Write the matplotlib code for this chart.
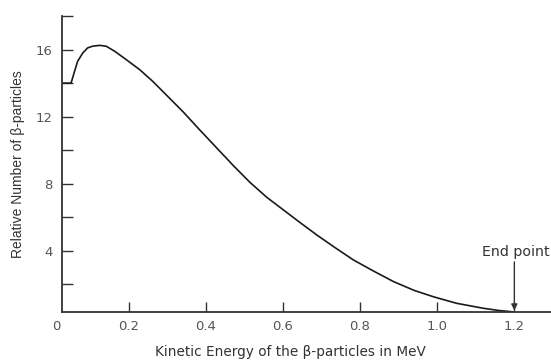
import matplotlib
matplotlib.use("Agg")
import matplotlib.pyplot as plt

plt.rcParams['font.family'] = ['DejaVu Sans']

# Data
energy_mev = [0.0275, 0.051, 0.060, 0.068, 0.0815, 0.094, 0.107, 0.125, 0.142, 0.164,
              0.194, 0.229, 0.263, 0.289, 0.341, 0.385, 0.428, 0.471, 0.514, 0.558,
              0.601, 0.644, 0.688, 0.735, 0.783, 0.835, 0.887, 0.94, 0.99, 1.05,
              1.12, 1.16, 1.2]
rel_number = [14.0, 14.0, 14.7, 15.3, 15.8, 16.1, 16.2, 16.25, 16.2, 15.9,
              15.4, 14.8, 14.1, 13.5, 12.3, 11.2, 10.15, 9.1, 8.1, 7.2,
              6.45, 5.7, 4.95, 4.2, 3.46, 2.8, 2.17, 1.65, 1.27, 0.88,
              0.58, 0.45, 0.36]
x_ticks = [0.2, 0.4, 0.6, 0.8, 1.0, 1.2]
x_tick_labels = ["0.2", "0.4", "0.6", "0.8", "1.0", "1.2"]
y_major = [4, 8, 12, 16]
y_minor = [2, 6, 10, 14, 18]
end_point = 1.2

fig = plt.figure(figsize=(5.51, 3.6), dpi=100)
ax = fig.add_axes([62/551, 1-312/360, 1-62/551, (312-16)/360])

ax.plot(energy_mev, rel_number, color='#1a1a1a', lw=1.2, solid_joinstyle='round',
        solid_capstyle='round')

ax.set_xlim(0.0275, 1.295)
ax.set_ylim(0.36, 18.0)

for s in ['top', 'right']:
    ax.spines[s].set_visible(False)
for s in ['left', 'bottom']:
    ax.spines[s].set_color('#333333')
    ax.spines[s].set_linewidth(1.3)

ax.set_xticks(x_ticks)
ax.set_xticklabels(x_tick_labels)
ax.set_yticks(y_major)
ax.set_yticklabels([str(v) for v in y_major])
ax.set_yticks(y_minor, minor=True)

ax.tick_params(axis='x', direction='in', length=7, width=1.0, color='#333333',
               labelsize=9.5, labelcolor='#555555', pad=6)
ax.tick_params(axis='y', which='major', direction='in', length=8, width=1.0,
               color='#333333', labelsize=9.5, labelcolor='#555555', pad=7)
ax.tick_params(axis='y', which='minor', direction='in', length=8, width=1.0,
               color='#333333')

# "0" label at origin
ax.text(0.013, -0.0285, "0",
        transform=ax.get_xaxis_transform(), ha='center', va='top',
        fontsize=9.5, color='#555555')

ax.set_xlabel("Kinetic Energy of the β-particles in MeV", fontsize=9.8, color='#333333')
ax.xaxis.set_label_coords((290 - 62) / 489, -(352 - 312) / 296)
ax.xaxis.label.set_va('center')
ax.set_ylabel("Relative Number of β-particles", fontsize=10, color='#333333',
              family='Liberation Sans')
ax.yaxis.set_label_coords(-(62 - 18) / 489, 0.5)
ax.yaxis.label.set_va('center')

ax.annotate("", xy=(end_point, 0.45), xytext=(end_point, 3.35),
            arrowprops=dict(arrowstyle='-|>', color='#333333', lw=1.0,
                            mutation_scale=9, shrinkA=0, shrinkB=0))
ax.text(1.117, 3.95, "End point", ha='left', va='center', fontsize=10.2, color='#333333')

fig.savefig("out.png", dpi=100)
